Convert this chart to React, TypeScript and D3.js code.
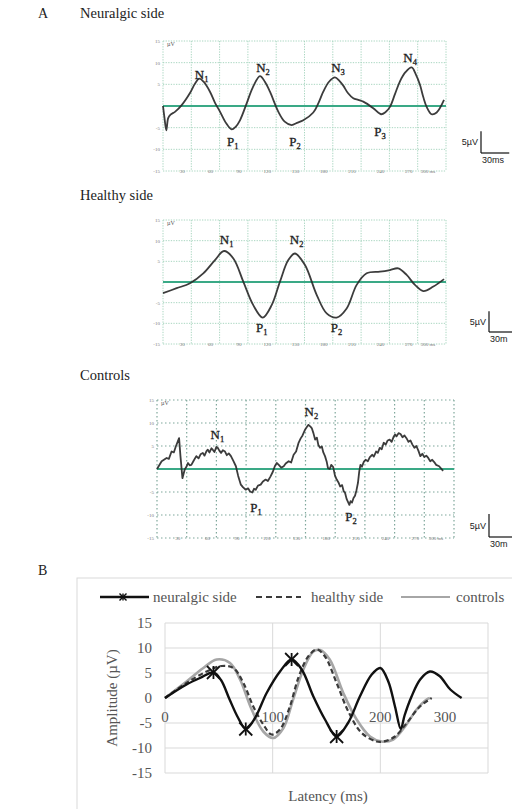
import React from 'react';
import * as d3 from 'd3';

type Pt = [number, number];

// ---------- Panel A: single recordings (ms, µV) ----------
const neuralgicTrace: Pt[] = [
  [0, 0], [1.5, -2.6], [3.5, -5.6], [5.5, -2.8], [8, -2.0], [13, -1.3], [19.8, 0.2], [28.6, 3.0],
  [34, 5.2], [38.5, 6.3], [43, 5.6], [49.8, 3.3], [55, 0.8], [60.4, -1.3], [67, -4.0], [72.8, -5.4],
  [77, -4.8], [81.6, -3.3], [88.7, 0.6], [95, 4.2], [102.8, 6.9], [108, 5.6], [113.4, 3.3],
  [122.2, -1.3], [129, -3.6], [136.4, -4.4], [142, -3.9], [148.7, -3.3], [159.3, -1.5], [165, 0.8],
  [169.9, 3.3], [176, 5.6], [182.3, 6.6], [187, 5.8], [191.1, 4.7], [196, 3.0], [201.7, 1.8],
  [207, 1.4], [212.3, 1.0], [222.9, -0.5], [231.1, -1.9], [236, -1.4], [240.6, -0.2], [246, 2.8],
  [251.2, 5.7], [257, 7.8], [263.6, 8.9], [268, 7.3], [272.4, 4.9], [276, 2.0], [279.5, -0.2],
  [284.8, -1.9], [290.1, -1.5], [297.9, 1.4],
];

const healthyTrace: Pt[] = [
  [0, -2.7], [14.5, -1.5], [28.6, -0.3], [42.7, 2.1], [55.1, 5.3], [64.7, 7.5], [74.6, 5.7],
  [85.1, 0.1], [95.7, -5.6], [105.7, -8.6], [115.2, -5.6], [124, 0.1], [132.8, 5.3], [139.9, 6.9],
  [150.5, 4.1], [162.9, -3.1], [173.5, -7.6], [184.1, -8.6], [194.7, -6.4], [205.3, -0.7],
  [215.9, 2.1], [230, 2.5], [240.6, 2.9], [249.4, 3.3], [258.3, 1.7], [267.1, -0.7], [276, -2.2],
  [286.6, -1.1], [297.9, 0.7],
];

const controlsTrace: Pt[] = [
  [0, 0], [4.7, 1.7], [9.7, 2.4], [12, 2.2], [14.7, 3.8], [17, 3.6], [19, 4.9], [22.3, 6.7],
  [23.7, 2.8], [25.7, -2.0], [28, -0.1], [30, 0.6], [31.3, 1.3], [33, 0.8], [34.7, 0.9], [37, 1.8],
  [39.7, 2.8], [42, 2.3], [44, 3.2], [46.3, 3.5], [48, 2.9], [50, 3.9], [51.3, 4.2], [53, 3.6],
  [55, 4.5], [56.3, 4.2], [58, 3.7], [60, 4.8], [61.3, 4.6], [63, 4.0], [64.7, 3.5], [66.5, 4.1],
  [68.7, 3.8], [70.5, 3.0], [72.5, 3.4], [74.7, 2.8], [77, 1.8], [79.7, 0.6], [82, -1.5],
  [84.7, -3.4], [87, -4.0], [89.7, -4.5], [92, -4.2], [94, -4.9], [96.3, -5.1], [98, -4.3],
  [99.7, -4.5], [102, -3.6], [104.7, -3.4], [107, -2.7], [109.7, -2.3], [112, -2.6], [114.7, -1.6],
  [117, -0.6], [119, 0.6], [121, 1.3], [123, 0.9], [125.5, 0.3], [128, 0.6], [130, 1.2], [133, 1.7],
  [135.5, 1.4], [138, 3.1], [140.5, 3.8], [143, 5.7], [145, 6.6], [147, 7.3], [149.7, 8.6],
  [151, 9.0], [153, 9.6], [155, 9.2], [156.3, 8.9], [158, 7.8], [159.7, 6.4], [161.5, 6.8],
  [163, 5.2], [164.7, 4.6], [166.5, 4.9], [168, 3.6], [169.7, 2.8], [171.5, 1.5], [172.7, 0.2],
  [174.5, 0.0], [176, 0.9], [178, 0.4], [179.7, -1.4], [181.5, -2.3], [183.5, -3.0], [185, -3.8],
  [187, -3.5], [188.5, -4.8], [190, -5.2], [191.5, -6.5], [193, -7.2], [194.3, -7.8], [195.5, -7.0],
  [197, -7.3], [198.5, -6.3], [200, -5.8], [201.5, -4.6], [203, -3.0], [204.3, -0.5], [205.5, 0.9],
  [207, 0.5], [209, 1.6], [210.7, 2.0], [213, 1.7], [215, 2.6], [217.5, 3.1], [219, 2.7],
  [221.3, 3.8], [223, 3.5], [225, 4.6], [227, 4.3], [229, 5.7], [231, 5.3], [233, 6.2], [235, 6.4],
  [237, 5.9], [239, 7.0], [240.5, 7.5], [242, 7.1], [244, 7.8], [246, 7.6], [248, 6.9], [250, 7.3],
  [252, 6.7], [254, 5.9], [256, 6.2], [258, 5.3], [260, 4.6], [262, 5.0], [264, 4.0], [266, 2.8],
  [268, 3.3], [270, 2.6], [272, 2.9], [274, 2.4], [276, 1.7], [278, 2.0], [280, 1.5], [282, 0.9],
  [285, 0.6], [289, -0.4],
];

type PeakLabel = { letter: string; sub: string; t: number; v: number };

const neuralgicPeakLabels: PeakLabel[] = [
  { letter: 'N', sub: '1', t: 41, v: 7.1 },
  { letter: 'P', sub: '1', t: 74, v: -8.3 },
  { letter: 'N', sub: '2', t: 106, v: 8.8 },
  { letter: 'P', sub: '2', t: 140, v: -8.3 },
  { letter: 'N', sub: '3', t: 185.5, v: 8.8 },
  { letter: 'P', sub: '3', t: 230, v: -6.0 },
  { letter: 'N', sub: '4', t: 262, v: 11.1 },
];
const healthyPeakLabels: PeakLabel[] = [
  { letter: 'N', sub: '1', t: 67.5, v: 10.1 },
  { letter: 'P', sub: '1', t: 104.6, v: -11.1 },
  { letter: 'N', sub: '2', t: 141.7, v: 10.1 },
  { letter: 'P', sub: '2', t: 184, v: -11.1 },
];
const controlsPeakLabels: PeakLabel[] = [
  { letter: 'N', sub: '1', t: 61, v: 7.4 },
  { letter: 'P', sub: '1', t: 100, v: -8.5 },
  { letter: 'N', sub: '2', t: 156, v: 12.4 },
  { letter: 'P', sub: '2', t: 196, v: -10.4 },
];

const panelATimeTicks = [30, 60, 90, 120, 150, 180, 210, 240, 270, 300];
const panelAAmpTicks = [15, 10, 5, -5, -10, -15];

// ---------- Panel B: averaged waveforms ----------
const meanNeuralgic: Pt[] = [
  [0, 0], [20, 2.7], [32.5, 4.0], [45, 5.1], [52, 3.6], [60, -0.3], [68, -4.0], [75, -6.2],
  [83.6, -4.0], [94.4, 1.0], [106.8, 5.3], [117.6, 7.7], [127, 5.7], [137.8, 0.3], [148.6, -4.3],
  [159.4, -7.7], [170, -5.0], [181, 0.3], [192, 4.7], [200, 6.0], [207.4, 3.3], [213.6, -1.7],
  [219, -6.2], [222.5, -3.5], [229, 0.3], [237, 3.7], [246, 5.3], [255, 4.4], [265, 1.7], [275.5, 0],
];
const neuralgicMarkers: Pt[] = [[45, 5.1], [75, -6.2], [117.6, 7.7], [159.4, -7.7]];
const meanHealthy: Pt[] = [
  [0, 0], [20, 3.0], [38.7, 5.3], [52.6, 6.4], [63.5, 6.0], [72.8, 3.0], [82, -1.7], [91.3, -5.3],
  [99, -7.3], [106.8, -6.3], [116, -1.7], [123.8, 4.0], [133, 8.3], [141, 9.7], [148.6, 8.3],
  [159.4, 3.0], [170.3, -2.7], [182.7, -7.0], [196.6, -8.7], [203, -8.7], [213.6, -7.7],
  [224.5, -5.0], [236.8, -1.7], [247.7, 0],
];
const meanControls: Pt[] = [
  [0, 0], [20, 3.3], [35.6, 6.0], [48, 7.7], [60.4, 7.0], [69.7, 3.7], [80.5, -2.3], [91.3, -6.7],
  [100.6, -8.0], [110, -6.0], [119, -0.3], [128.5, 5.7], [137.8, 9.3], [144, 9.6], [153, 7.7],
  [165.6, 1.0], [178, -4.3], [190.4, -7.7], [201, -8.7], [212, -8.3], [223, -5.7], [233.7, -2.3],
  [243, -0.3], [246, 0],
];
const bTimeTicks = [0, 100, 200, 300];
const bAmpTicks = [-15, -10, -5, 0, 5, 10, 15];
const legendNames = ['neuralgic side', 'healthy side', 'controls'];

const SERIF = '"Liberation Serif", "Times New Roman", serif';
const SANS = '"Liberation Sans", Arial, sans-serif';

type PanelProps = {
  left: number; right: number; top: number; bottom: number;
  trace: Pt[]; labels: PeakLabel[]; dark?: boolean; smooth?: boolean;
  barX: number; barY: number; barText: string;
};

function TracePanel(p: PanelProps) {
  const x = d3.scaleLinear().domain([0, 300]).range([p.left, p.right]);
  const y = d3.scaleLinear().domain([-15, 15]).range([p.bottom, p.top]);
  const gridColor = p.dark ? '#7fa79b' : '#a9d6c0';
  const dash = p.dark ? '1.5,2.5' : '1.3,1.3';
  const line = d3
    .line<Pt>()
    .x((d) => x(d[0]))
    .y((d) => y(d[1]))
    .curve(p.smooth ? d3.curveCatmullRom.alpha(0.5) : d3.curveLinear);
  const vTicks = [0, ...panelATimeTicks];
  const barH = y(0) - y(5);
  const barW = x(30) - x(0);
  return (
    <g>
      {panelAAmpTicks.map((v) => (
        <line key={'h' + v} x1={p.left} x2={p.right} y1={y(v)} y2={y(v)}
          stroke={gridColor} strokeWidth={p.dark ? 1.2 : 1} strokeDasharray={dash} />
      ))}
      {vTicks.map((v) => (
        <line key={'v' + v} x1={x(v)} x2={x(v)} y1={p.top} y2={p.bottom}
          stroke={gridColor} strokeWidth={p.dark ? 1.2 : 1} strokeDasharray={dash} />
      ))}
      {panelAAmpTicks.map((v) => (
        <text key={'yl' + v} x={p.left - 3} y={y(v) + 2} fontSize={5} fill="#777"
          textAnchor="end" fontFamily={SERIF}>{v}</text>
      ))}
      {panelATimeTicks.map((v) => (
        <text key={'xl' + v} x={v === 300 ? x(v) - 18 : x(v) - 9} y={p.bottom + 1.5} fontSize={5}
          fill="#777" textAnchor="middle" fontFamily={SERIF}>{v === 300 ? '300 ms' : v}</text>
      ))}
      <text x={x(0) + 4} y={y(15) + 5} fontSize={6} fill="#555" fontFamily={SERIF}>µV</text>
      <line x1={p.left} x2={p.right} y1={y(0)} y2={y(0)} stroke="#3aa986" strokeWidth={2} />
      <path d={line(p.trace) || ''} fill="none" stroke="#2b2b2b" strokeWidth={1.8}
        strokeLinejoin="round" opacity={0.92} />
      {p.labels.map((l, i) => (
        <text key={'pl' + i} x={x(l.t)} y={y(l.v) + 4} fontSize={13} fill="#1e1e1e"
          fontFamily={SERIF} textAnchor="middle" stroke="#1e1e1e" strokeWidth={0.3}>
          {l.letter}
          <tspan fontSize={8.5} dy={3}>{l.sub}</tspan>
        </text>
      ))}
      {/* scale bar */}
      <line x1={p.barX} x2={p.barX} y1={p.barY - barH} y2={p.barY} stroke="#111" strokeWidth={1.2} />
      <line x1={p.barX} x2={p.barX + barW} y1={p.barY} y2={p.barY} stroke="#111" strokeWidth={1.2} />
      <text x={p.barX - 3} y={p.barY - barH / 2 + 3} fontSize={9} textAnchor="end"
        fontFamily={SANS} fill="#222">5µV</text>
      <text x={p.barX + 1} y={p.barY + 10} fontSize={9} fontFamily={SANS} fill="#222">{p.barText}</text>
    </g>
  );
}

function PanelB() {
  const x = d3.scaleLinear().domain([0, 300]).range([165, 488]);
  const y = d3.scaleLinear().domain([-15, 15]).range([773, 623]);
  const curve = d3.curveCatmullRom.alpha(0.5);
  const line = d3.line<Pt>().x((d) => x(d[0])).y((d) => y(d[1])).curve(curve);
  const star = (cx: number, cy: number, r: number, key: string, w = 1.6) => (
    <g key={key} stroke="#111" strokeWidth={w}>
      <line x1={cx - r} x2={cx + r} y1={cy - r} y2={cy + r} />
      <line x1={cx - r} x2={cx + r} y1={cy + r} y2={cy - r} />
      <line x1={cx} x2={cx} y1={cy - r} y2={cy + r} />
    </g>
  );
  const legY = 597;
  return (
    <g>
      <rect x={77} y={578} width={460} height={260} fill="#fff" stroke="#d9d9d9" strokeWidth={1} />
      {bAmpTicks.map((v) => (
        <line key={'bh' + v} x1={x(0)} x2={x(300)} y1={y(v)} y2={y(v)} stroke="#d9d9d9" strokeWidth={1} />
      ))}
      {bTimeTicks.map((v) => (
        <line key={'bv' + v} x1={x(v)} x2={x(v)} y1={y(15)} y2={y(-15)} stroke="#d9d9d9" strokeWidth={1} />
      ))}
      {bAmpTicks.map((v) => (
        <text key={'by' + v} x={152} y={y(v) + 5} fontSize={15} fill="#555" textAnchor="end"
          fontFamily={SERIF}>{v}</text>
      ))}
      {bTimeTicks.map((v) => (
        <text key={'bx' + v} x={v === 300 ? x(v) - 43 : x(v)} y={y(0) + 24} fontSize={15} fill="#555"
          textAnchor="middle" fontFamily={SERIF}>{v}</text>
      ))}
      <path d={line(meanControls) || ''} fill="none" stroke="#a6a6a6" strokeWidth={2.6} />
      <path d={line(meanHealthy) || ''} fill="none" stroke="#3a3a3a" strokeWidth={2.2} strokeDasharray="5,3" />
      <path d={line(meanNeuralgic) || ''} fill="none" stroke="#111" strokeWidth={2.4} />
      {neuralgicMarkers.map((d, i) => star(x(d[0]), y(d[1]), 6.5, 'm' + i, 1.8))}
      <text transform={`translate(117,${y(0)}) rotate(-90)`} fontSize={15} fill="#555"
        textAnchor="middle" fontFamily={SERIF}>Amplitude (µV)</text>
      <text x={328} y={801} fontSize={15} fill="#555" textAnchor="middle" fontFamily={SERIF}>Latency (ms)</text>
      {/* legend */}
      <line x1={100} x2={149} y1={legY} y2={legY} stroke="#111" strokeWidth={2.4} />
      {star(123, legY, 3.5, 'legstar', 1.4)}
      <text x={153} y={legY + 5} fontSize={15} fill="#555" fontFamily={SERIF}>{legendNames[0]}</text>
      <line x1={256} x2={301} y1={legY} y2={legY} stroke="#3a3a3a" strokeWidth={2.2} strokeDasharray="6,4" />
      <text x={311} y={legY + 5} fontSize={15} fill="#555" fontFamily={SERIF}>{legendNames[1]}</text>
      <line x1={401} x2={450} y1={legY} y2={legY} stroke="#a6a6a6" strokeWidth={2.2} />
      <text x={456} y={legY + 5} fontSize={15} fill="#555" fontFamily={SERIF}>{legendNames[2]}</text>
    </g>
  );
}

export default function App() {
  return (
    <svg width={512} height={809} style={{ position: 'absolute', left: 0, top: 0, background: '#fff' }}>
      <rect width={512} height={809} fill="#fff" />
      <text x={38} y={18} fontSize={14} fontFamily={SERIF} fill="#222">A</text>
      <text x={80} y={18} fontSize={14.5} fontFamily={SERIF} fill="#222">Neuralgic side</text>
      <text x={80} y={200} fontSize={14.5} fontFamily={SERIF} fill="#222">Healthy side</text>
      <text x={80} y={380} fontSize={14.5} fontFamily={SERIF} fill="#222">Controls</text>
      <text x={38} y={575} fontSize={14} fontFamily={SERIF} fill="#222">B</text>
      <TracePanel left={163} right={446} top={41} bottom={171} trace={neuralgicTrace}
        labels={neuralgicPeakLabels} smooth barX={481} barY={153} barText="30ms" />
      <TracePanel left={163} right={446} top={220} bottom={344} trace={healthyTrace}
        labels={healthyPeakLabels} smooth barX={489} barY={332} barText="30m" />
      <TracePanel left={157} right={454} top={400} bottom={538} trace={controlsTrace}
        labels={controlsPeakLabels} dark barX={489} barY={537} barText="30m" />
      <PanelB />
    </svg>
  );
}
